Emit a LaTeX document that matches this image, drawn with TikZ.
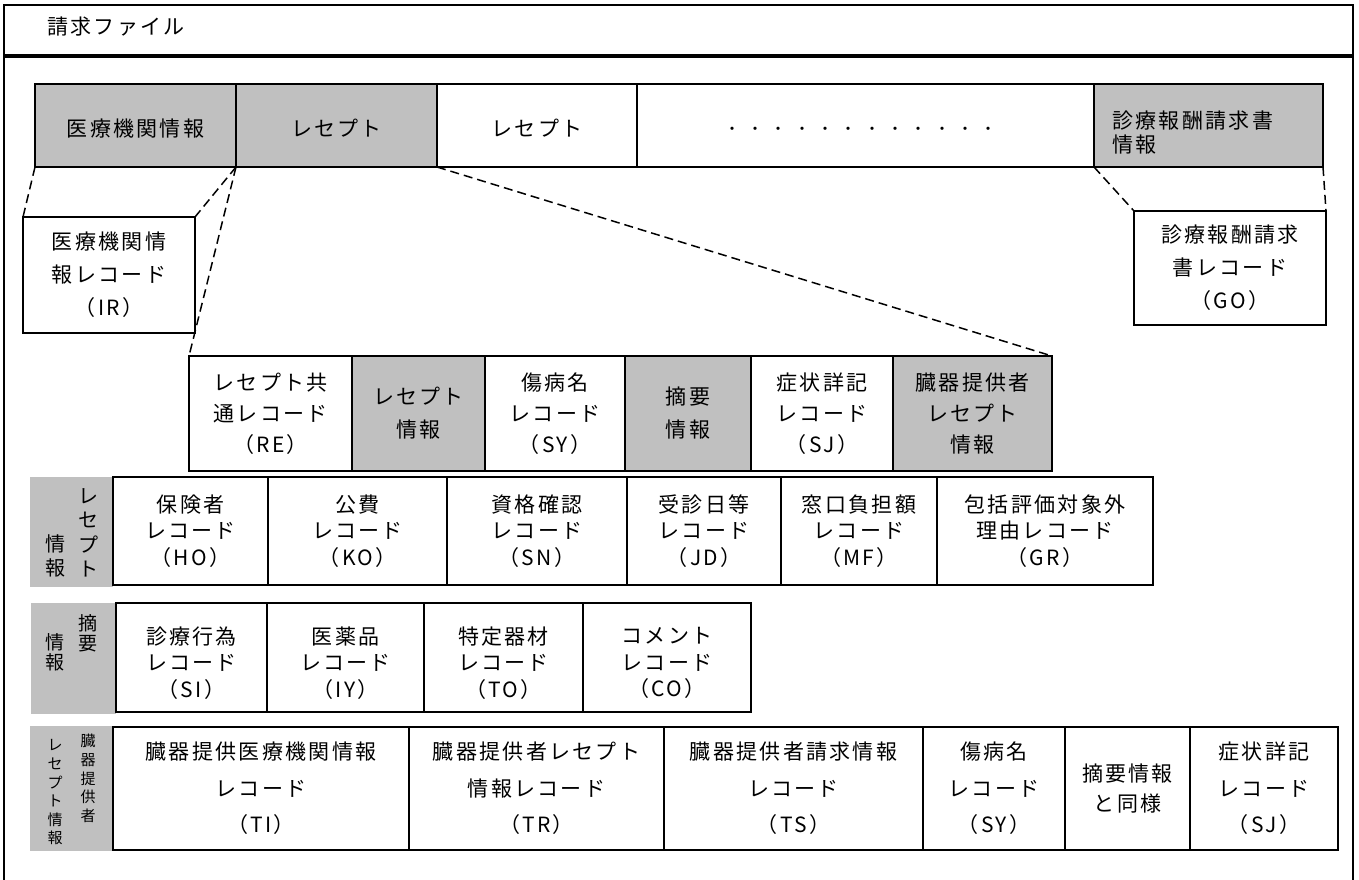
\documentclass[tikz,border=0pt]{standalone}
\usepackage{fontspec}
\newfontfamily\jp{Noto Sans CJK JP}[LetterSpace=11]
\definecolor{cellgray}{RGB}{192,192,192}
\tikzset{
  bx/.style={draw, line width=1.7pt, inner sep=0pt, outer sep=0pt, align=center, fill=white},
  gbx/.style={bx, fill=cellgray},
  lab/.style={fill=cellgray, inner sep=0pt, outer sep=0pt},
  vtxt/.style={inner sep=0pt, align=center},
  dl/.style={line width=1.5pt, dash pattern=on 9pt off 5pt},
  frame/.style={line width=1.7pt},
  fA/.style={font={\jp\fontsize{21pt}{24pt}\selectfont}},
  fB/.style={font={\jp\fontsize{21pt}{33pt}\selectfont}},
  fR/.style={font={\jp\fontsize{21pt}{31pt}\selectfont}},
  fC/.style={font={\jp\fontsize{21pt}{26.5pt}\selectfont}},
  fD/.style={font={\jp\fontsize{21pt}{36.5pt}\selectfont}},
  fV1/.style={font={\jp\fontsize{20pt}{24.5pt}\selectfont}},
  fV2/.style={font={\jp\fontsize{19pt}{20pt}\selectfont}},
  fV3/.style={font={\jp\fontsize{15pt}{18.6pt}\selectfont}},
  txt/.style={inner sep=0pt, align=center},
}
\begin{document}
\begin{tikzpicture}[x=1pt,y=-1pt]
\useasboundingbox (0,0) rectangle (1359,879);
% frame
\draw[frame] (4,5) rectangle (1353,55);
\draw[frame] (4,880) -- (4,57) -- (1353,57) -- (1353,880);
\node[fA, anchor=west, inner sep=0pt] (title) at (47,27) {請求ファイル};

% top row
\node[gbx, minimum width=201pt, minimum height=83pt] (mi) at (135.5,125.5) {};
\node[gbx, minimum width=201pt, minimum height=83pt] (rp1) at (336.5,125.5) {};
\node[bx, minimum width=200pt, minimum height=83pt] (rp2) at (537,125.5) {};
\node[bx, minimum width=457pt, minimum height=83pt] (dots) at (865.5,125.5) {};
\node[gbx, minimum width=229pt, minimum height=83pt] (sk) at (1208.5,125.5) {};
\node[txt, fA] (mi-t) at (135.5,128.5) {医療機関情報};
\node[txt, fA] (rp1-t) at (336.5,128.5) {レセプト};
\node[txt, fA] (rp2-t) at (537,128.5) {レセプト};
\node[txt, fA] (dots-t) at (866,129) {．．．．．．．．．．．．};
\node[txt, fA, align=left, anchor=west] (sk-t) at (1112,133) {診療報酬請求書\\情報};

% IR / GO
\node[bx, fB, minimum width=172pt, minimum height=116pt] (ir) at (109,275) {医療機関情\\報レコード\\（IR）};
\node[bx, fB, minimum width=192pt, minimum height=114pt] (go) at (1230,268) {診療報酬請求\\書レコード\\（GO）};

% receipt row
\node[bx, fR, minimum width=163pt, minimum height=115pt] (rec) at (270.5,413.5) {レセプト共\\通レコード\\（RE）};
\node[gbx, fB, minimum width=133pt, minimum height=115pt] (rinfo) at (418.5,413.5) {レセプト\\情報};
\node[bx, fR, minimum width=140pt, minimum height=115pt] (sya) at (555,413.5) {傷病名\\レコード\\（SY）};
\node[gbx, fB, minimum width=126pt, minimum height=115pt] (teki) at (688,413.5) {摘要\\情報};
\node[bx, fR, minimum width=142pt, minimum height=115pt] (sja) at (822,413.5) {症状詳記\\レコード\\（SJ）};
\node[gbx, fR, minimum width=159pt, minimum height=115pt] (zo) at (972.5,413.5) {臓器提供者\\レセプト\\情報};

% receipt info row
\node[lab, minimum width=83pt, minimum height=110pt] (labA) at (71.5,532) {};
\node[vtxt, fV1] (labAr) at (88,533) {レ\\セ\\プ\\ト};
\node[vtxt, fV1] (labAl) at (55,556) {情\\報};
\node[bx, fC, minimum width=155pt, minimum height=108pt] (ho) at (190.5,531) {保険者\\レコード\\（HO）};
\node[bx, fC, minimum width=179pt, minimum height=108pt] (ko) at (357.5,531) {公費\\レコード\\（KO）};
\node[bx, fC, minimum width=180pt, minimum height=108pt] (sn) at (537,531) {資格確認\\レコード\\（SN）};
\node[bx, fC, minimum width=154pt, minimum height=108pt] (jd) at (704,531) {受診日等\\レコード\\（JD）};
\node[bx, fC, minimum width=156pt, minimum height=108pt] (mf) at (859,531) {窓口負担額\\レコード\\（MF）};
\node[bx, fC, minimum width=216pt, minimum height=108pt] (gr) at (1045,531) {包括評価対象外\\理由レコード\\（GR）};

% tekiyo row
\node[lab, minimum width=85pt, minimum height=111pt] (labB) at (73.5,658.5) {};
\node[vtxt, fV2] (labBr) at (88,633) {摘\\要};
\node[vtxt, fV2] (labBl) at (55,652.5) {情\\報};
\node[bx, minimum width=151pt, minimum height=109pt] (si) at (191.5,657.5) {};
\node[bx, minimum width=157pt, minimum height=109pt] (iy) at (345.5,657.5) {};
\node[bx, minimum width=159pt, minimum height=109pt] (tom) at (503.5,657.5) {};
\node[bx, minimum width=168pt, minimum height=109pt] (com) at (667,657.5) {};
\node[txt, fC] (si-t) at (191.5,663) {診療行為\\レコード\\（SI）};
\node[txt, fC] (iy-t) at (345.5,663) {医薬品\\レコード\\（IY）};
\node[txt, fC] (tom-t) at (503.5,663) {特定器材\\レコード\\（TO）};
\node[txt, fC] (com-t) at (667,663) {コメント\\レコード\\（CO）};

% organ donor row
\node[lab, minimum width=82pt, minimum height=125pt] (labC) at (71,788.5) {};
\node[vtxt, fV3] (labCr) at (88,778.5) {臓\\器\\提\\供\\者};
\node[vtxt, fV3] (labCl) at (55,792.5) {レ\\セ\\プ\\ト\\情\\報};
\node[bx, fD, minimum width=296pt, minimum height=123pt] (ti) at (261,788.5) {臓器提供医療機関情報\\レコード\\（TI）};
\node[bx, fD, minimum width=255pt, minimum height=123pt] (tr) at (536.5,788.5) {臓器提供者レセプト\\情報レコード\\（TR）};
\node[bx, fD, minimum width=259pt, minimum height=123pt] (ts) at (793.5,788.5) {臓器提供者請求情報\\レコード\\（TS）};
\node[bx, fD, minimum width=142pt, minimum height=123pt] (syb) at (994,788.5) {傷病名\\レコード\\（SY）};
\node[bx, font={\jp\fontsize{21pt}{30pt}\selectfont}, minimum width=125pt, minimum height=123pt] (same) at (1127.5,788.5) {摘要情報\\と同様};
\node[bx, fD, minimum width=148pt, minimum height=123pt] (sjb) at (1264,788.5) {症状詳記\\レコード\\（SJ）};

% dashed connectors
\draw[dl] (mi.south west) -- (ir.north west);
\draw[dl] (mi.south east) -- (ir.north east);
\draw[dl] (rp1.south west) -- (rec.north west);
\draw[dl] (rp1.south east) -- (zo.north east);
\draw[dl] (sk.south west) -- (go.north west);
\draw[dl] (sk.south east) -- (go.north east);
\end{tikzpicture}
\end{document}
